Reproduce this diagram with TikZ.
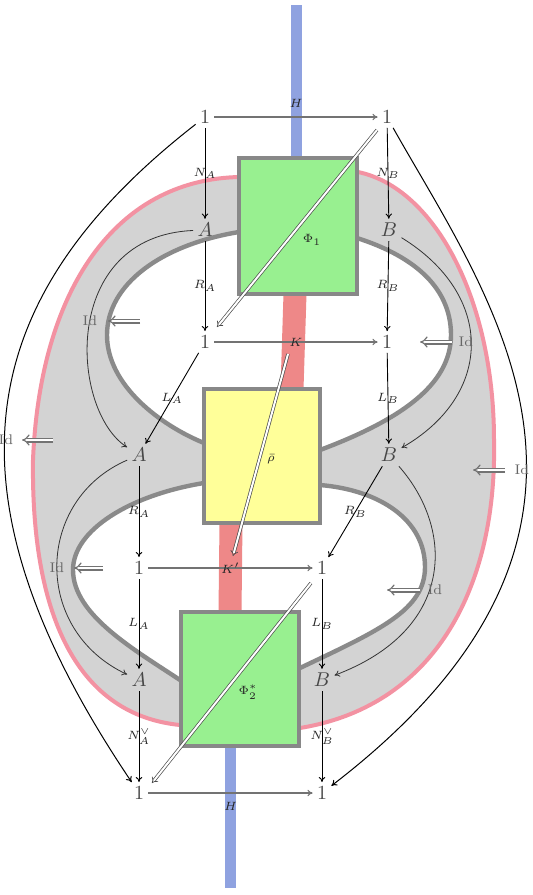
\documentclass[tikz,border=0pt]{standalone}
\usetikzlibrary{arrows.meta}
\definecolor{bandgray}{RGB}{211,211,211}
\definecolor{pinkline}{RGB}{243,146,162}
\definecolor{edgegray}{RGB}{138,138,138}
\definecolor{boxgray}{RGB}{136,136,136}
\definecolor{boxgreen}{RGB}{152,240,144}
\definecolor{boxyellow}{RGB}{255,255,153}
\definecolor{barred}{RGB}{238,136,136}
\definecolor{barblue}{RGB}{143,162,224}
\begin{document}
\begin{tikzpicture}[x=0.5pt,y=-0.5pt,
  obj/.style={text=black!72, inner sep=2pt},
  lab/.style={font=\fontsize{6}{7}\selectfont, text=black!85, inner sep=0.5pt},
  idlab/.style={font=\scriptsize, text=black!60, inner sep=0.5pt},
  blk/.style={draw=black, line width=0.45pt, -{To[length=2.6pt,width=3.2pt]}},
  gry/.style={draw=black!55, line width=0.55pt, -{To[length=2.6pt,width=3.2pt]}},
  idcurve/.style={draw=black!80, line width=0.4pt, -{To[length=2.6pt,width=3.2pt]}},
  outcurve/.style={draw=black, line width=0.5pt, -{To[length=2.8pt,width=3.4pt]}},
  twocell/.style={draw=black!70, double, double distance=1pt, line width=0.35pt, -{Implies}},
  idarr/.style={draw=black!55, double, double distance=1.3pt, line width=0.6pt, -{Implies}},
  boxst/.style={draw=boxgray, line width=2pt},
  bar/.style={line cap=butt}
]
\useasboundingbox (0,0) rectangle (533,895);

% band outer shape
\filldraw[fill=bandgray, draw=pinkline, line width=2pt]
  (239,177) .. controls (115,180) and (40,290) .. (33,460)
  .. controls (31,620) and (80,715) .. (180,725)
  -- (300,728) .. controls (440,705) and (497,580) .. (494,440)
  .. controls (494,300) and (435,188) .. (358,172)
  -- cycle;
% upper hole
\filldraw[fill=white, draw=edgegray, line width=2.2pt]
  (239,232) .. controls (160,245) and (107,285) .. (107,335)
  .. controls (107,385) and (160,425) .. (204,443)
  -- (320,450) .. controls (400,420) and (451,385) .. (451,335)
  .. controls (451,285) and (410,255) .. (357,238)
  -- cycle;
% lower hole
\filldraw[fill=white, draw=edgegray, line width=2.2pt]
  (204,483) .. controls (130,495) and (73,530) .. (73,570)
  .. controls (73,615) and (135,650) .. (180,680)
  -- (300,668) .. controls (380,630) and (425,610) .. (425,567)
  .. controls (425,520) and (380,490) .. (320,485)
  -- cycle;

% bars
\draw[bar, barblue, line width=5.5pt] (296.5,5) -- (296.5,160);
\draw[bar, barblue, line width=5.5pt] (230.5,740) -- (230.5,888);
\draw[bar, barred, line width=11.5pt] (295,294) -- (292,389);
\draw[bar, barred, line width=11.5pt] (231,523) -- (230,612);

% boxes
\draw[boxst, fill=boxgreen] (239,158) rectangle (357,294);
\draw[boxst, fill=boxyellow] (204,389) rectangle (320,523);
\draw[boxst, fill=boxgreen] (181,612) rectangle (299,746);

% objects
\node[obj] (tl) at (205,117) {$1$};
\node[obj] (tr) at (387,117) {$1$};
\node[obj] (a1) at (205,230) {$A$};
\node[obj] (b1) at (389,230) {$B$};
\node[obj] (ml) at (205,342) {$1$};
\node[obj] (mr) at (387,342) {$1$};
\node[obj] (a2) at (139,455) {$A$};
\node[obj] (b2) at (389,455) {$B$};
\node[obj] (ll) at (139,568) {$1$};
\node[obj] (lr) at (322,568) {$1$};
\node[obj] (a3) at (139,680) {$A$};
\node[obj] (b3) at (322,680) {$B$};
\node[obj] (bl) at (139,793) {$1$};
\node[obj] (br) at (322,793) {$1$};

% 1-cells
\draw[gry] (tl) -- node[lab, above=4pt]{$H$} (tr);
\draw[blk] (tl) -- node[lab]{$N_A$} (a1);
\draw[blk] (a1) -- node[lab]{$R_A$} (ml);
\draw[blk] (tr) -- node[lab]{$N_B$} (b1);
\draw[blk] (b1) -- node[lab]{$R_B$} (mr);
\draw[gry] (ml) -- node[lab]{$K$} (mr);
\draw[blk] (ml) -- node[lab]{$L_A$} (a2);
\draw[blk] (mr) -- node[lab]{$L_B$} (b2);
\draw[blk] (a2) -- node[lab]{$R_A$} (ll);
\draw[blk] (b2) -- node[lab]{$R_B$} (lr);
\draw[gry] (ll) -- node[lab]{$K'$} (lr);
\draw[blk] (ll) -- node[lab]{$L_A$} (a3);
\draw[blk] (lr) -- node[lab]{$L_B$} (b3);
\draw[blk] (a3) -- node[lab]{$N_A^\vee$} (bl);
\draw[blk] (b3) -- node[lab]{$N_B^\vee$} (br);
\draw[gry] (bl) -- node[lab, below=4pt]{$H$} (br);

% curved identity arrows
\draw[outcurve] (tl) .. controls (-30,300) and (-62,495) .. (bl);
\draw[outcurve] (tr) .. controls (490,300) and (665,530) .. (br);
\draw[idcurve] (a1) .. controls (60,236) and (70,410) .. (a2);
\draw[idcurve] (b1) .. controls (495,295) and (494,395) .. (b2);
\draw[idcurve] (a2) .. controls (35,500) and (32,630) .. (a3);
\draw[idcurve] (b2) .. controls (455,530) and (455,630) .. (b3);

% Id labels and their 2-cells
\node[idlab] (idul) at (90,321) {Id};
\node[idlab] (idur) at (466,342) {Id};
\node[idlab] (idol) at (6,440) {Id};
\node[idlab] (idor) at (522,470) {Id};
\node[idlab] (idll) at (57,568) {Id};
\node[idlab] (idlr) at (435,590) {Id};
\coordinate (ulT) at (140,321); \coordinate (ulH) at (108,321);
\coordinate (urT) at (452,342); \coordinate (urH) at (420,342);
\coordinate (olT) at (53,440);  \coordinate (olH) at (22,440);
\coordinate (orT) at (505,470); \coordinate (orH) at (473,470);
\coordinate (llT) at (103,568); \coordinate (llH) at (74,568);
\coordinate (lrT) at (420,590); \coordinate (lrH) at (387,590);
\draw[idarr] (ulT) -- (ulH);
\draw[idarr] (urT) -- (urH);
\draw[idarr] (olT) -- (olH);
\draw[idarr] (orT) -- (orH);
\draw[idarr] (llT) -- (llH);
\draw[idarr] (lrT) -- (lrH);

% 2-cells across the boxes
\coordinate (p1s) at (377,130); \coordinate (p1e) at (217,327);
\coordinate (rhs) at (288,354); \coordinate (rhe) at (233,556);
\coordinate (p2s) at (311,583); \coordinate (p2e) at (152,783);
\draw[twocell] (p1s) -- (p1e);
\draw[twocell] (rhs) -- (rhe);
\draw[twocell] (p2s) -- (p2e);
\node[lab] (phi1) at (312,240) {$\Phi_1$};
\node[lab] (rho) at (271,459) {$\bar\rho$};
\node[lab] (phi2) at (248,692) {$\Phi_2^*$};
\end{tikzpicture}
\end{document}
